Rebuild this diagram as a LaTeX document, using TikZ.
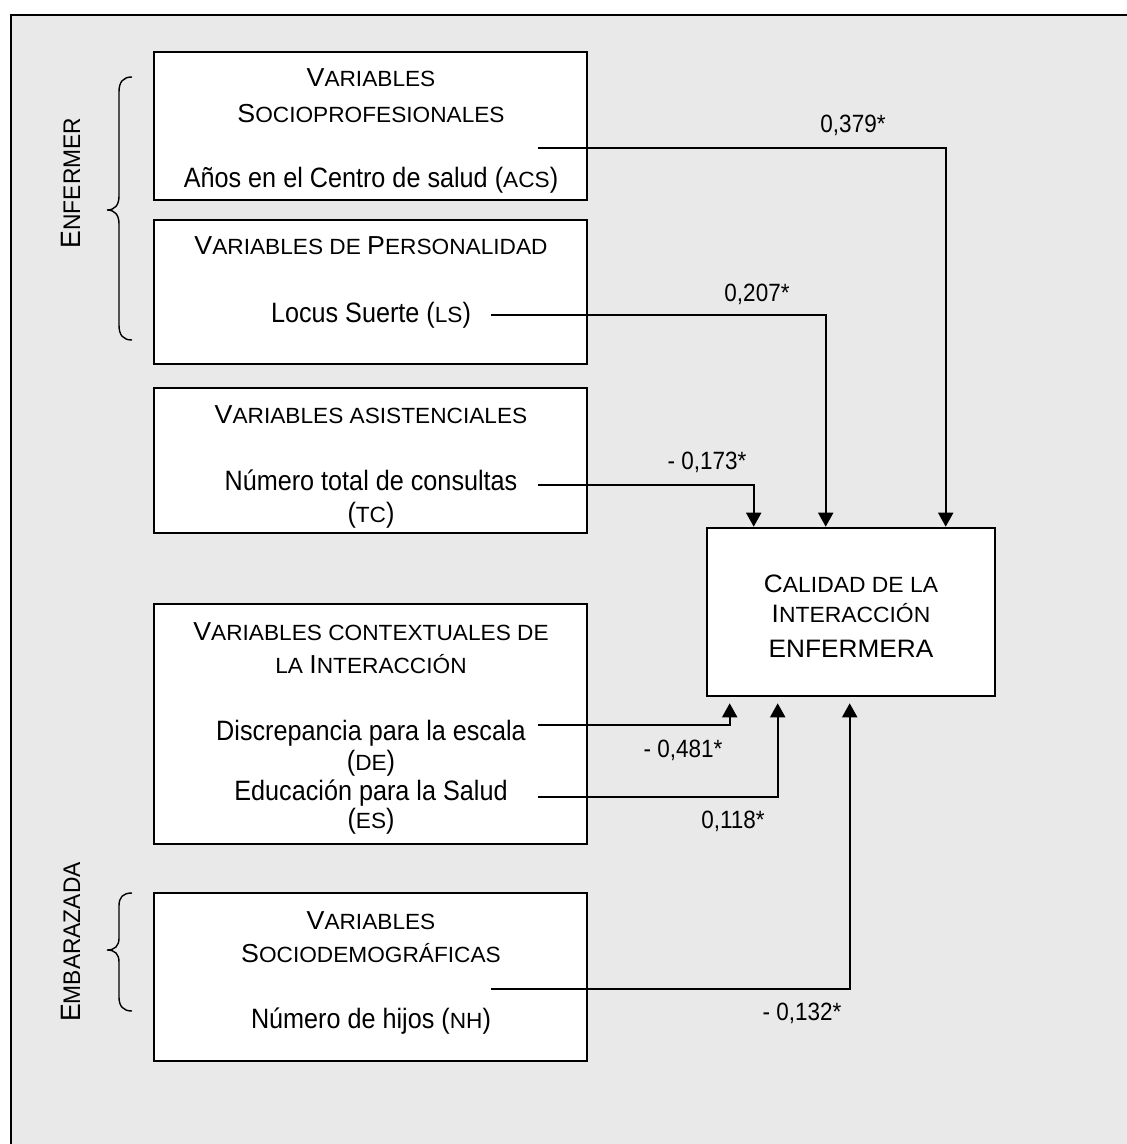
\documentclass[tikz,border=0pt]{standalone}
\usepackage{fontspec}
\setmainfont{Liberation Sans}
\newfontfamily\bodyfont[FakeStretch=0.9]{Liberation Sans}
\newfontfamily\capsfont[FakeStretch=1.03]{Liberation Sans}
\newfontfamily\targetfont[FakeStretch=1.04]{Liberation Sans}
\newfontfamily\sidefont[FakeStretch=0.95]{Liberation Sans}
\usetikzlibrary{arrows.meta,calc}

% fake small capitals: first letters large, the rest in smaller capitals
\newcommand\ttl[2]{{\fontsize{13}{15}\selectfont #1}{\fontsize{11}{13}\selectfont #2}}
\newcommand\tgl[2]{{\fontsize{12.6}{15}\selectfont #1}{\fontsize{11}{13}\selectfont #2}}
\newcommand\sdl[2]{{\fontsize{14}{16}\selectfont #1}{\fontsize{12}{14}\selectfont #2}}
\newcommand\acr[1]{({\capsfont\fontsize{11}{13}\selectfont #1})}

\definecolor{panel}{RGB}{233,233,233}

\tikzset{
  vbox/.style={draw=black, line width=1.3pt, fill=white, minimum width=216.5pt, inner sep=0pt},
  ttext/.style={anchor=base, inner sep=0pt, font=\capsfont},
  gtext/.style={anchor=base, inner sep=0pt, font=\targetfont},
  btext/.style={anchor=base, inner sep=0pt, font=\bodyfont\fontsize{14}{16}\selectfont},
  coef/.style={anchor=base, inner sep=0pt, font=\bodyfont\fontsize{12.5}{14}\selectfont},
  link/.style={line width=1pt, -{Triangle[width=7.5pt,length=7pt]}},
  bracket/.style={line width=0.7pt},
  side/.style={anchor=base, rotate=90, inner sep=0pt, font=\sidefont},
}

\begin{document}
\begin{tikzpicture}[x=0.5pt, y=-0.5pt]
  \clip (0,0) rectangle (1127,1144);
  \fill[white] (0,0) rectangle (1127,1144);
  % panel
  \draw[fill=panel, line width=1pt] (11,15) rectangle (1145,1165);

  % predictor boxes
  \node[vbox, minimum height=74pt]  (b1) at (370.5,126)   {};
  \node[vbox, minimum height=72pt]  (b2) at (370.5,292)   {};
  \node[vbox, minimum height=72.5pt](b3) at (370.5,460.5) {};
  \node[vbox, minimum height=120pt] (b4) at (370.5,724)   {};
  \node[vbox, minimum height=84pt]  (b5) at (370.5,977)   {};
  % outcome box
  \node[vbox, minimum width=144pt, minimum height=84pt] (tgt) at (851,612) {};

  % box 1
  \node[ttext] (h1a) at (371,87)  {\ttl{V}{ARIABLES}};
  \node[ttext] (h1b) at (371,123) {\ttl{S}{OCIOPROFESIONALES}};
  \node[btext] (t1)  at (371,188) {Años en el Centro de salud \acr{ACS}};
  % box 2
  \node[ttext] (h2) at (371,255) {\ttl{V}{ARIABLES DE }\ttl{P}{ERSONALIDAD}};
  \node[btext] (t2) at (371,322) {Locus Suerte \acr{LS}};
  % box 3
  \node[ttext] (h3)  at (371,423) {\ttl{V}{ARIABLES ASISTENCIALES}};
  \node[btext] (t3)  at (371,490) {Número total de consultas};
  \node[btext] (t3b) at (371,522) {\acr{TC}};
  % box 4
  \node[ttext] (h4a) at (371,640) {\ttl{V}{ARIABLES CONTEXTUALES DE}};
  \node[ttext] (h4b) at (371,673) {\ttl{}{LA }\ttl{I}{NTERACCIÓN}};
  \node[btext] (t4)  at (371,740) {Discrepancia para la escala};
  \node[btext] (t4b) at (371,770) {\acr{DE}};
  \node[btext] (t5)  at (371,800) {Educación para la Salud};
  \node[btext] (t5b) at (371,828) {\acr{ES}};
  % box 5
  \node[ttext] (h5a) at (371,929)  {\ttl{V}{ARIABLES}};
  \node[ttext] (h5b) at (371,962)  {\ttl{S}{OCIODEMOGRÁFICAS}};
  \node[btext] (t6)  at (371,1028) {Número de hijos \acr{NH}};
  % outcome
  \node[gtext] (g1) at (851,592) {\tgl{C}{ALIDAD DE LA}};
  \node[gtext] (g2) at (851,622) {\tgl{I}{NTERACCIÓN}};
  \node[gtext] (g3) at (851,657) {\tgl{ENFERMERA}{}};

  % group labels and brackets
  \node[side] (enf) at (80,183) {\sdl{E}{NFERMER}};
  \node[side] (emb) at (80,942) {\sdl{E}{MBARAZADA}};
  \draw[bracket] (132,77) .. controls (123,77) and (119,82) .. (119,92)
    -- (119,196) .. controls (119,205) and (115,210) .. (107,210)
    .. controls (115,210) and (119,215) .. (119,224)
    -- (119,325) .. controls (119,335) and (123,340) .. (132,340);
  \draw[bracket] (132,893) .. controls (123,893) and (119,897) .. (119,906)
    -- (119,938) .. controls (119,946) and (115,950) .. (107,950)
    .. controls (115,950) and (119,954) .. (119,962)
    -- (119,997) .. controls (119,1006) and (123,1011) .. (132,1011);

  % connector starts
  \coordinate (sACS) at (538,148);
  \coordinate (sLS)  at (491,315);
  \coordinate (sTC)  at (538,485);
  \coordinate (sDE)  at (538,725);
  \coordinate (sES)  at (538,797);
  \coordinate (sNH)  at (491,989);

  \draw[link] (sACS) -| ($(tgt.north west)+(240,0)$);
  \draw[link] (sLS)  -| ($(tgt.north west)+(120,0)$);
  \draw[link] (sTC)  -| ($(tgt.north west)+(48,0)$);
  \draw[link] (sDE)  -| ($(tgt.south west)+(24,6)$);
  \draw[link] (sES)  -| ($(tgt.south west)+(72,6)$);
  \draw[link] (sNH)  -| ($(tgt.south west)+(144,6)$);

  % path coefficients
  \node[coef] (c1) at (853,133)  {0,379*};
  \node[coef] (c2) at (757,302)  {0,207*};
  \node[coef] (c3) at (707,469)  {- 0,173*};
  \node[coef] (c4) at (683,757)  {- 0,481*};
  \node[coef] (c5) at (733,828)  {0,118*};
  \node[coef] (c6) at (802,1020) {- 0,132*};
\end{tikzpicture}
\end{document}
